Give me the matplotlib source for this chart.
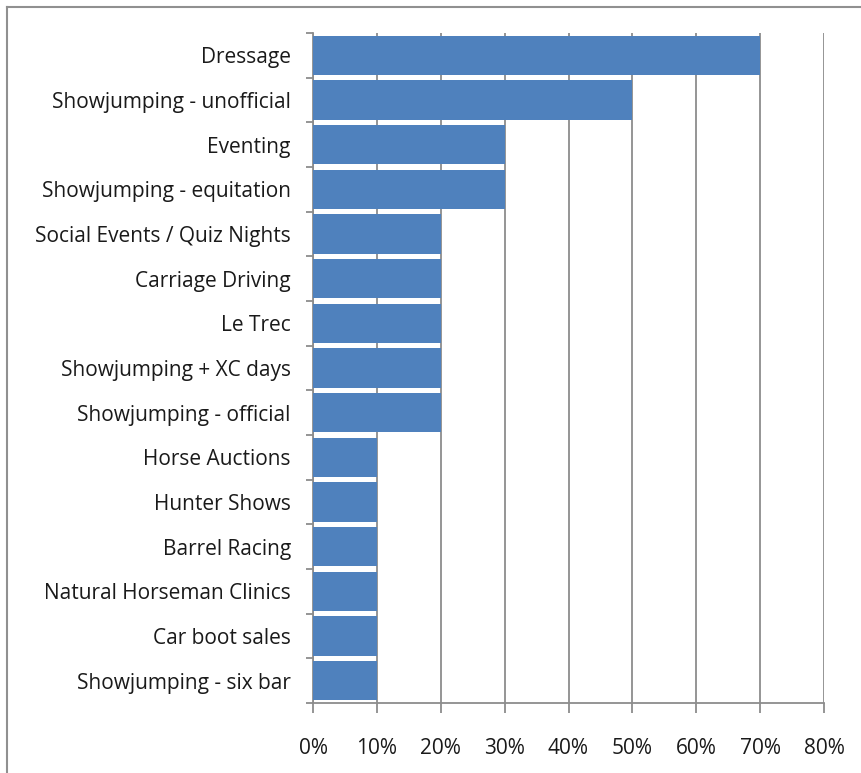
import numpy as np
import matplotlib
matplotlib.use("Agg")
import matplotlib.pyplot as plt
from matplotlib.lines import Line2D
from matplotlib.ticker import FuncFormatter

# Survey answers, top to bottom as in the chart
CATEGORIES = [
    'Dressage', 'Showjumping - unofficial', 'Eventing', 'Showjumping - equitation',
    'Social Events / Quiz Nights', 'Carriage Driving', 'Le Trec', 'Showjumping + XC days',
    'Showjumping - official', 'Horse Auctions', 'Hunter Shows', 'Barrel Racing',
    'Natural Horseman Clinics', 'Car boot sales', 'Showjumping - six bar',
]
PERCENTS = [70, 50, 30, 30, 20, 20, 20, 20, 20, 10, 10, 10, 10, 10, 10]
X_TICKS = [0, 10, 20, 30, 40, 50, 60, 70, 80]

BAR_COLOR = '#4F81BD'
GRID_COLOR = '#8C8C8C'

plt.rcParams['font.family'] = ['Open Sans', 'DejaVu Sans']

fig = plt.figure(figsize=(8.62, 7.73), dpi=100)
ax = fig.add_axes([313 / 862, 1 - 703 / 773, (824 - 313) / 862, (703 - 33) / 773])

y = np.arange(len(CATEGORIES))
ax.barh(y, PERCENTS, height=0.88, color=BAR_COLOR, zorder=3)

ax.set_xlim(0, 80)
ax.set_ylim(len(CATEGORIES) - 0.5, -0.5)
ax.set_xticks(X_TICKS)
ax.xaxis.set_major_formatter(FuncFormatter(lambda v, _: f'{v:.0f}%'))
ax.set_yticks(y)
ax.set_yticklabels(CATEGORIES)
ax.set_yticks(np.arange(len(CATEGORIES) + 1) - 0.5, minor=True)

ax.tick_params(axis='y', which='major', length=0, pad=16, labelsize=15, labelcolor='#1a1a1a')
ax.tick_params(axis='y', which='minor', length=5, width=1.3, color=GRID_COLOR, direction='out')
ax.tick_params(axis='x', which='major', length=7, width=1.3, color=GRID_COLOR, pad=18,
               labelsize=15, labelcolor='#1a1a1a', direction='out')

ax.grid(axis='x', color=GRID_COLOR, linewidth=1.3, zorder=0)
for side in ('top', 'right'):
    ax.spines[side].set_visible(False)
for side in ('left', 'bottom'):
    ax.spines[side].set_color(GRID_COLOR)
    ax.spines[side].set_linewidth(1.3)

# chart frame (only top and left edges are visible in the crop)
fig.add_artist(Line2D([7 / 862, 7 / 862], [0, 1 - 7 / 773], color='#909090', lw=1.5))
fig.add_artist(Line2D([7 / 862, 1], [1 - 7 / 773, 1 - 7 / 773], color='#909090', lw=1.5))

fig.savefig('out.png', dpi=100)
